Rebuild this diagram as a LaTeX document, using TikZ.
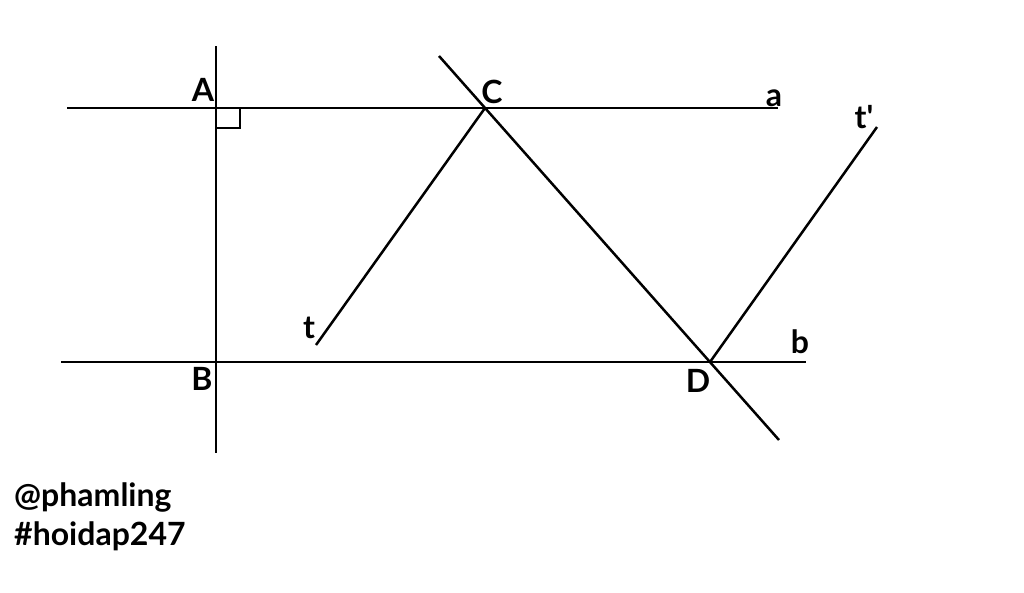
\documentclass[tikz,border=0pt]{standalone}
\usepackage{fontspec}
\setmainfont{Lato}[Ligatures=TeXOff]
\begin{document}
\begin{tikzpicture}[x=1pt,y=-1pt,
  geo/.style={line width=2.5pt,black},
  lbl/.style={font=\fontsize{32}{36}\selectfont\bfseries,inner sep=0pt,anchor=base},
  wm/.style={font=\fontsize{32}{36}\selectfont\bfseries,inner sep=0pt,anchor=base west}]
\useasboundingbox[fill=white] (0,0) rectangle (1024,592);
% points
\coordinate (A) at (216,108);
\coordinate (B) at (216,362);
\coordinate (C) at (485,108);
\coordinate (D) at (710,362);
\coordinate (aL) at (67,108);
\coordinate (aR) at (778,108);
\coordinate (bL) at (61,362);
\coordinate (bR) at (806,362);
\coordinate (vT) at (216,46);
\coordinate (vB) at (216,453);
\coordinate (cdT) at (439,56);
\coordinate (cdB) at (779,440);
\coordinate (tE) at (316,345);
\coordinate (tpE) at (877,127);
% lines
\draw[geo] (aL) -- (aR);
\draw[geo] (bL) -- (bR);
\draw[geo] (vT) -- (vB);
\draw[geo] (cdT) -- (cdB);
\draw[geo] (C) -- (tE);
\draw[geo] (D) -- (tpE);
% right angle
\draw[line width=2pt] (216,128) -- (240,128) -- (240,108);
% labels
\node[lbl] (lA) at (203,101) {A};
\node[lbl] (lC) at (492,103) {C};
\node[lbl] (la) at (774,106) {a};
\node[lbl] (ltp) at (864,128) {t'};
\node[lbl] (lt) at (309,338) {t};
\node[lbl] (lB) at (202,390) {B};
\node[lbl] (lD) at (698,392) {D};
\node[lbl] (lb) at (800,353) {b};
\node[wm] (w1) at (14,506) {@phamling};
\node[wm] (w2) at (14,545) {\#hoidap247};
\end{tikzpicture}
\end{document}
